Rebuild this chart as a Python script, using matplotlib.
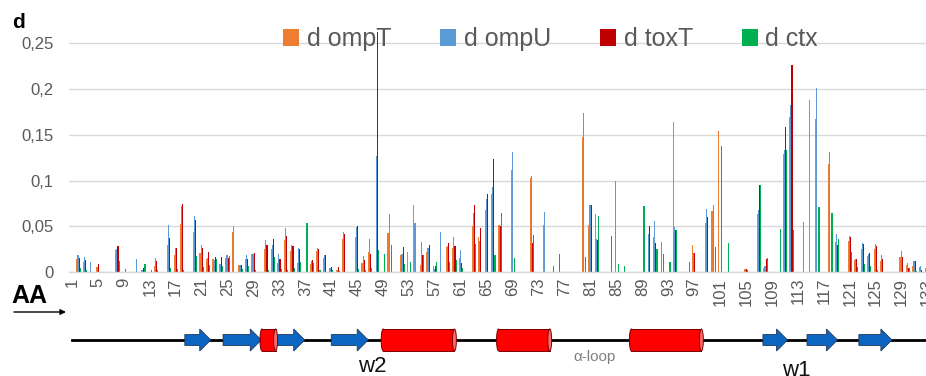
import numpy as np
import matplotlib
matplotlib.use('Agg')
import matplotlib.pyplot as plt
from matplotlib.patches import Patch, Polygon, Rectangle, Ellipse

plt.rcParams['font.family'] = ['Liberation Sans', 'DejaVu Sans']

# amino acid positions 1..133
aa = np.arange(1, 134)
series = ['d ompT', 'd ompU', 'd toxT', 'd ctx']
colors = ['#ED7D31', '#5B9BD5', '#C00000', '#00B050']

d_ompT = [
    0, .014, .011, 0, .006, 0, 0, .024, 0, 0,
    0, .002, 0, .0073, 0, .0296, .0186, .0526, 0, .044,
    .021, .015, .015, .009, .016, .0435, .0077, .014, .0197, 0,
    .025, .025, .010, .035, .023, .010, 0, .009, .023, .0157,
    .005, .002, .0365, 0, .039, .0106, .022, 0, 0, .043,
    0, .019, .022, .073, .0077, .022, .0073, 0, .0273, .026,
    .0157, 0, .050, .039, .0685, .085, .052, 0, .112, 0,
    0, .1025, 0, .0516, 0, 0, 0, 0, 0, .148,
    .052, .064, 0, 0, 0, 0, 0, 0, 0, 0,
    .039, 0, 0, .164, 0, 0, .030, 0, .054, .0665,
    .1545, 0, 0, 0, .0033, 0, .064, .005, 0, 0,
    .1287, .169, 0, 0, .188, .167, 0, .118, .0335, 0,
    .0345, .0138, .0255, .0175, .025, .0124, 0, 0, .017, .0076,
    .0073, .0055, .0047]
d_ompU = [
    0, .0186, .017, .011, .006, 0, 0, .025, 0, 0,
    .014, .003, 0, .016, 0, .0515, .027, .072, 0, .062,
    .0296, .016, .013, .0095, .0186, .050, .0077, .0186, .020, 0,
    .035, .030, .0197, .0485, .030, .027, 0, .012, .027, .0186,
    .005, .003, .044, 0, .0496, .0175, .0365, .1265, 0, .0634,
    0, .020, 0, .0536, .033, .026, .004, .044, .029, .039,
    .0248, 0, .0645, .034, .080, .093, .052, 0, .1316, 0,
    0, .1055, 0, .066, 0, 0, 0, 0, 0, .174,
    .074, .036, 0, 0, .0996, 0, 0, 0, 0, .0415,
    .0556, .0335, 0, .049, 0, 0, .021, 0, .0687, .074,
    0, 0, 0, 0, .0036, 0, .0676, .0065, 0, 0,
    .134, .183, 0, .0545, 0, .2015, 0, .131, .042, 0,
    .040, .014, .0316, .0196, .0305, .0185, 0, 0, .023, .0098,
    .012, .0065, .004]
d_toxT = [
    0, .016, .013, 0, .009, 0, 0, .0285, 0, 0,
    0, .005, 0, .012, 0, .037, .026, .0745, 0, .057,
    .027, .022, .017, .017, .016, 0, .0077, .014, .0208, 0,
    .0296, .036, .014, .0394, .029, .025, 0, .013, .025, .0186,
    .0055, .0055, .0416, 0, .050, .013, .0197, .262, 0, 0,
    0, .0277, 0, 0, .0186, .030, .0073, 0, .0317, .029,
    .0106, 0, .073, .048, .086, .124, .051, 0, 0, 0,
    0, .032, 0, 0, 0, 0, 0, 0, 0, 0,
    .074, .035, 0, 0, 0, 0, 0, 0, 0, .051,
    .032, 0, 0, .046, 0, 0, .021, 0, .060, 0,
    0, 0, 0, 0, .0033, 0, .0956, .0145, 0, 0,
    .159, .2265, 0, 0, 0, 0, 0, 0, .030, 0,
    .038, .014, .0305, .021, .0287, .014, 0, 0, .0164, .005,
    .012, .002, 0]
d_ctx = [
    0, .005, .003, 0, 0, 0, 0, .012, .0033, 0,
    0, .009, .002, .002, 0, .0044, .004, .003, 0, .0175,
    .006, .0077, .014, .0066, .0175, 0, .004, .0066, .002, 0,
    .002, .0168, .0036, .003, .005, .011, .054, .010, .003, 0,
    .003, .001, 0, 0, .004, .003, .005, .024, .0197, .0295,
    0, .0095, .011, 0, .0186, 0, .0117, 0, .011, .013,
    .0044, 0, .0306, 0, 0, .0185, .065, 0, .016, 0,
    0, .041, 0, 0, .007, .0196, 0, 0, 0, .0167,
    0, .061, 0, .040, .009, .007, 0, 0, .072, 0,
    .025, .020, .011, .0465, 0, .0116, 0, 0, 0, .028,
    .138, .0324, 0, 0, .002, 0, .095, .0156, 0, .0476,
    .133, .046, 0, 0, 0, .071, 0, .065, .036, 0,
    .022, .0055, .0087, .0065, .002, 0, 0, 0, 0, .005,
    .001, 0, 0]
data = [d_ompT, d_ompU, d_toxT, d_ctx]

# secondary structure along the sequence (AA positions)
strands = [(18.4, 22.4), (24.3, 30.2), (32.4, 36.9), (41.0, 46.7),
           (107.6, 111.4), (114.4, 119.1), (122.4, 127.5)]
helices = [(30.3, 32.4), (49.0, 60.0), (66.8, 74.7), (87.3, 98.1)]
struct_labels = [('w2', 47.4, 366, 16, '#111111'),
                 ('α-loop', 81.6, 357, 11, '#808080'),
                 ('w1', 112.7, 370, 16, '#111111')]

W, H = 926, 376
fig = plt.figure(figsize=(W / 100, H / 100), dpi=100)
left, width = 68.8 / W, 862 / W

ax = fig.add_axes([left, (H - 272.3) / H, width, 240 / H])
bw = 0.17
for i, (vals, c, name) in enumerate(zip(data, colors, series)):
    ax.bar(aa + (i - 1.5) * bw, vals, width=bw, color=c, label=name, linewidth=0)
ax.set_xlim(0.5, 133.5)
ax.set_ylim(0, 0.262)
ax.set_yticks([0, 0.05, 0.1, 0.15, 0.2, 0.25])
ax.set_yticklabels(['0', '0,05', '0,1', '0,15', '0,2', '0,25'])
ax.set_xticks(aa[::4])
ax.tick_params(axis='x', rotation=90, length=0, pad=4, labelsize=12, labelcolor='#595959')
ax.tick_params(axis='y', length=0, pad=11, labelsize=12, labelcolor='#595959')
ax.grid(axis='y', color='#D9D9D9', lw=1)
ax.set_axisbelow(True)
for s in ['top', 'right', 'left']:
    ax.spines[s].set_visible(False)
ax.spines['bottom'].set_color('#D9D9D9')
ax.spines['bottom'].set_linewidth(1)

handles = [Patch(facecolor=c, edgecolor='none') for c in colors]
fig.legend(handles, series, loc='center left', bbox_to_anchor=(283 / W, 1 - 39 / H),
           ncol=4, frameon=False, fontsize=18, handlelength=0.65, handleheight=0.65,
           handletextpad=0.3, columnspacing=1.95, borderpad=0, borderaxespad=0,
           labelcolor='#595959')

fig.text(12 / W, 1 - 23 / H, 'd', fontsize=15, weight='bold', va='center')
fig.text(11 / W, 1 - 296 / H, 'AA', fontsize=18, weight='bold', va='center')
fig.add_artist(plt.Annotation('', xy=(66, H - 312), xytext=(14, H - 312),
                              xycoords='figure pixels', textcoords='figure pixels',
                              arrowprops=dict(arrowstyle='-|>', lw=1, color='black',
                                              mutation_scale=8, shrinkA=0, shrinkB=0)))

# topology strip below the chart, y in image pixels
ax2 = fig.add_axes([left, 0, width, 60 / H])
ax2.set_xlim(0.5, 133.5)
ax2.set_ylim(376, 316)
ax2.axis('off')
yc = 340
ax2.plot([1, 134], [yc, yc], color='black', lw=2, zorder=1, clip_on=False)

head = 1.7
for x0, x1 in strands:
    xh = x1 - head
    pts = [(x0, yc - 5.5), (xh, yc - 5.5), (xh, yc - 11), (x1, yc),
           (xh, yc + 11), (xh, yc + 5.5), (x0, yc + 5.5)]
    ax2.add_patch(Polygon(pts, closed=True, facecolor='#0B66C3', edgecolor='#1F3A5A',
                          lw=0.6, zorder=3))

cap = 0.6
for x0, x1 in helices:
    ax2.add_patch(Ellipse((x0, yc), cap, 22, facecolor='#FF0000', edgecolor='#7A0000',
                          lw=0.7, zorder=3))
    ax2.add_patch(Rectangle((x0, yc - 11), x1 - x0, 22, facecolor='#FF0000',
                            edgecolor='none', zorder=3))
    ax2.plot([x0, x1], [yc - 11, yc - 11], color='#7A0000', lw=0.7, zorder=4)
    ax2.plot([x0, x1], [yc + 11, yc + 11], color='#7A0000', lw=0.7, zorder=4)
    ax2.add_patch(Ellipse((x1, yc), cap, 22, facecolor='#FF6B6B', edgecolor='#7A0000',
                          lw=0.7, zorder=4))

for txt, x, y, fs, col in struct_labels:
    ax2.text(x, y, txt, fontsize=fs, color=col, ha='center', va='center', clip_on=False)

fig.savefig('out.png', dpi=100)
